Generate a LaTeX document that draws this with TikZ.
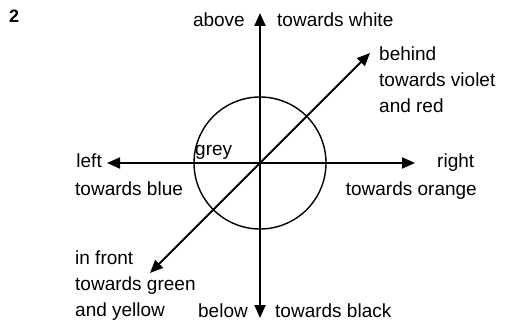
\documentclass[tikz,border=0pt]{standalone}
\usepackage{fontspec}
\setmainfont{Liberation Sans}
\usetikzlibrary{arrows.meta,positioning}

\begin{document}
\begin{tikzpicture}[x=1pt, y=-1pt,
      >={Triangle[length=13pt, width=11pt]},
      axis/.style={<->, line width=1.8pt},
      lbl/.style={inner sep=0pt, font=\fontsize{19}{26}\selectfont, align=left}
    ]
    \useasboundingbox (0,0) rectangle (518,323);

    % centre and arrow tips
    \coordinate (o)      at (260,163);
    \coordinate (up)     at (260,13);
    \coordinate (down)   at (260,318);
    \coordinate (west)   at (107,163);
    \coordinate (east)   at (415,163);
    \coordinate (behind) at (370,53);
    \coordinate (front)  at (150,273);

    \draw[line width=1.4pt] (o) circle[radius=66];
    \draw[axis] (down) -- (up);
    \draw[axis] (west) -- (east);
    \draw[axis] (front) -- (behind);

    \node[lbl, anchor=base west, font=\fontsize{18}{20}\selectfont\bfseries]
      (num) at (9,23) {2};

    \node[lbl, anchor=base east] (above) at (245,27) {above};
    \node[lbl, anchor=base west] (white) at (277,27) {towards white};
    \node[lbl, anchor=base west] (violet) at (379,113)
      {behind\\towards violet\\and red};
    \node[lbl, anchor=base east] (left) at (102,167) {left};
    \node[lbl, anchor=base west] (blue) at (75,195) {towards blue};
    \node[lbl, anchor=base west] (right) at (437,167) {right};
    \node[lbl, anchor=base east] (orange) at (477,195) {towards orange};
    \node[lbl, anchor=base west] (grey) at (195,155) {grey};
    \node[lbl, anchor=base west] (green) at (75,316)
      {in front\\towards green\\and yellow};
    \node[lbl, anchor=base east] (below) at (248,317) {below};
    \node[lbl, anchor=base west] (black) at (275,317) {towards black};
\end{tikzpicture}
\end{document}
